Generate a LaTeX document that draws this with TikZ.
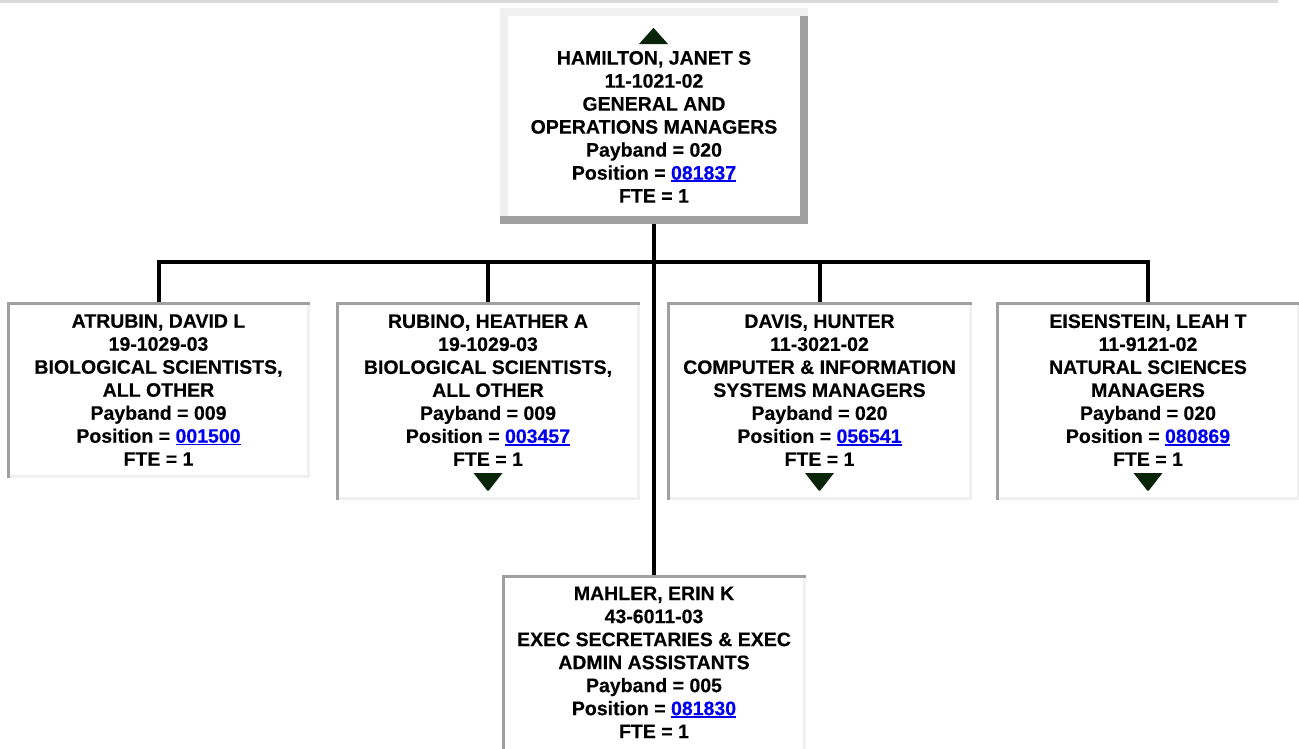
\documentclass[tikz,border=0pt]{standalone}
\usepackage{fontspec}
\setmainfont{Liberation Sans}[BoldFeatures={FakeBold=0.3}]
\definecolor{dkgray}{RGB}{160,160,160}
\definecolor{ltgray}{RGB}{240,240,240}
\definecolor{linkblue}{RGB}{0,0,238}
\definecolor{tricol}{RGB}{10,36,10}
\definecolor{toplinecol}{RGB}{218,218,218}
\newcommand\poslink[1]{{\color{linkblue}\setbox0\hbox{#1}\rlap{\rule[-2.6pt]{\wd0}{1.8pt}}\box0}}
% sunken border: top and left win at the corners
\newcommand\sunkbox[2]{%
  \fill[ltgray] ([shift={(#2,-#2)}]#1.south west) rectangle (#1.south east);
  \fill[ltgray] ([shift={(-#2,#2)}]#1.north east) rectangle (#1.south east);
  \fill[dkgray] (#1.north west) rectangle ([shift={(0,#2)}]#1.north east);
  \fill[dkgray] (#1.north west) rectangle ([shift={(#2,0)}]#1.south west);
}
% raised border: top and bottom span the full width
\newcommand\raisedbox[2]{%
  \fill[ltgray] (#1.north west) rectangle ([shift={(#2,0)}]#1.south west);
  \fill[dkgray] ([shift={(-#2,0)}]#1.north east) rectangle (#1.south east);
  \fill[ltgray] (#1.north west) rectangle ([shift={(0,#2)}]#1.north east);
  \fill[dkgray] ([shift={(0,-#2)}]#1.south west) rectangle (#1.south east);
}
\newcommand\downtri[1]{%
  \fill[tricol] ([shift={(-14.5,-27)}]#1.south) -- ([shift={(14.5,-27)}]#1.south)
    -- ([shift={(0.8,-9.5)}]#1.south) -- ([shift={(-0.8,-9.5)}]#1.south) -- cycle;
}
\begin{document}
\begin{tikzpicture}[x=1pt,y=-1pt,
  boxnode/.style={rectangle, fill=white, draw=none, inner sep=0pt, outer sep=0pt},
  txt/.style={anchor=north, inner sep=0pt, outer sep=0pt, align=center,
    font=\fontsize{19.5}{23}\selectfont\bfseries},
  conn/.style={draw=black, line width=4pt, line join=miter}]
\clip (0,0) rectangle (1299,748);
\fill[white] (0,0) rectangle (1299,748);
\fill[toplinecol] (0,0) rectangle (1278,2.5);

% boxes (nodes)
\node[boxnode, minimum width=308pt, minimum height=216pt] (top) at (654,116) {};
\node[boxnode, minimum width=303pt, minimum height=176pt] (atrubin) at (158.5,390) {};
\node[boxnode, minimum width=304pt, minimum height=198pt] (rubino) at (488,401) {};
\node[boxnode, minimum width=305pt, minimum height=198pt] (davis) at (819.5,401) {};
\node[boxnode, minimum width=304pt, minimum height=198pt] (eisen) at (1148,401) {};
\node[boxnode, minimum width=304pt, minimum height=200pt] (mahler) at (654,675) {};

% connectors
\coordinate (busy) at (0,262);
\draw[conn] (atrubin.north) |- (eisen.north |- busy) -- (eisen.north);
\draw[conn] (rubino.north) -- (rubino.north |- busy);
\draw[conn] (davis.north) -- (davis.north |- busy);
\draw[conn] (top.south) -- (mahler.north);

% borders
\raisedbox{top}{8}
\sunkbox{atrubin}{3.2}
\sunkbox{rubino}{3.2}
\sunkbox{davis}{3.2}
\sunkbox{eisen}{3.2}
\sunkbox{mahler}{3.2}

% triangles
\fill[tricol] ([shift={(-15,36)}]top.north) -- ([shift={(14,36)}]top.north)
  -- ([shift={(-0.3,20)}]top.north) -- ([shift={(-0.7,20)}]top.north) -- cycle;
\downtri{rubino}
\downtri{davis}
\downtri{eisen}

% texts
\node[txt] (top-t) at (654,51) {HAMILTON, JANET S\\11-1021-02\\GENERAL AND\\OPERATIONS MANAGERS\\Payband = 020\\Position = \poslink{081837}\\FTE = 1};
\node[txt] (atrubin-t) at (158.5,314.3) {ATRUBIN, DAVID L\\19-1029-03\\BIOLOGICAL SCIENTISTS,\\ALL OTHER\\Payband = 009\\Position = \poslink{001500}\\FTE = 1};
\node[txt] (rubino-t) at (488,314.3) {RUBINO, HEATHER A\\19-1029-03\\BIOLOGICAL SCIENTISTS,\\ALL OTHER\\Payband = 009\\Position = \poslink{003457}\\FTE = 1};
\node[txt] (davis-t) at (819.5,314.3) {DAVIS, HUNTER\\11-3021-02\\COMPUTER \& INFORMATION\\SYSTEMS MANAGERS\\Payband = 020\\Position = \poslink{056541}\\FTE = 1};
\node[txt] (eisen-t) at (1148,314.3) {EISENSTEIN, LEAH T\\11-9121-02\\NATURAL SCIENCES\\MANAGERS\\Payband = 020\\Position = \poslink{080869}\\FTE = 1};
\node[txt] (mahler-t) at (654,586.7) {MAHLER, ERIN K\\43-6011-03\\EXEC SECRETARIES \& EXEC\\ADMIN ASSISTANTS\\Payband = 005\\Position = \poslink{081830}\\FTE = 1};
\end{tikzpicture}
\end{document}
